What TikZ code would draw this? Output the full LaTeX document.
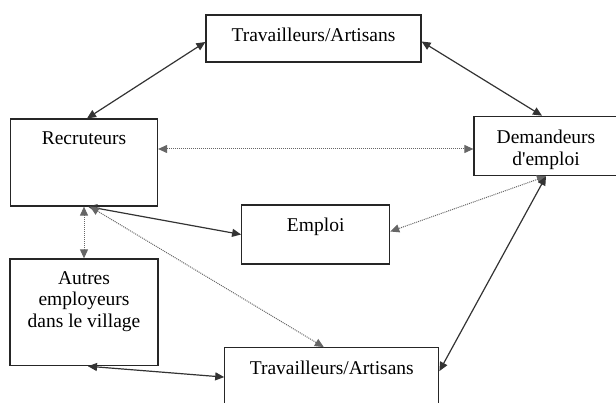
\documentclass[tikz,border=0pt]{standalone}
\usepackage{fontspec}
\setmainfont{Liberation Serif}
\usetikzlibrary{
        arrows.meta,
        positioning
    }
\tikzset{>={Triangle[length=9pt,width=8pt]},auto}
\tikzset{box/.style={draw=black!85,line width=1.2pt,rectangle,inner sep=0pt}}
\tikzset{lbl/.style={inner sep=0pt,align=center,font=\fontsize{19.5}{21.5}\selectfont}}

\begin{document}
\begin{tikzpicture}[x=1pt,y=-1pt]
                    \tikzset{link/.style={<->,line width=1.2pt,draw=black!80}}
                    \tikzset{hint/.style={<->,densely dotted,line width=1pt,draw=black!60}}
                    \useasboundingbox (0,0) rectangle (616,403);

                        % boxes
                        \node[box,minimum width=215pt,minimum height=47pt]   (tw)  at (313.5,38.5)  {};
                        \node[box,minimum width=147pt,minimum height=87pt]   (rec) at (84,162.5)    {};
                        \node[box,minimum width=144pt,minimum height=59.4pt] (dem) at (546,146)     {};
                        \node[box,minimum width=148pt,minimum height=59pt]   (emp) at (315.7,234.5) {};
                        \node[box,minimum width=148pt,minimum height=106.7pt] (aut) at (84,312.3)   {};
                        \node[box,minimum width=214pt,minimum height=70pt]   (tw2) at (331.8,382.7) {};

                        % texts
                        \node[lbl,below=13.5pt of tw.north]  (twlbl)  {Travailleurs/Artisans};
                        \node[lbl,below=13.5pt of rec.north] (reclbl) {Recruteurs};
                        \node[lbl,below=14.5pt of dem.north] (demlbl) {Demandeurs\\d\textquotesingle emploi};
                        \node[lbl,below=13.5pt of emp.north] (emplbl) {Emploi};
                        \node[lbl,below=12.7pt of aut.north] (autlbl) {Autres\\employeurs\\dans le village};
                        \node[lbl,below=13.3pt of tw2.north] (tw2lbl) {Travailleurs/Artisans};

                    \path
                            ([yshift=-3.5pt]tw.west)  edge[link]  ([xshift=3pt]rec.north)
                            ([yshift=-3pt]tw.east)    edge[link]  ([xshift=-4pt]dem.north)
                            ([yshift=13.5pt]rec.east) edge[hint]  ([yshift=-3pt]dem.west)
                            (dem.south)               edge[hint]  ([yshift=3pt]emp.east)
                            (dem.south)               edge[link]  ([yshift=-24pt]tw2.north east)
                            ([xshift=4pt]rec.south)   edge[link]  (emp.west)
                            (rec.south)               edge[hint]  (aut.north)
                            ([xshift=6pt]rec.south)   edge[hint]  ([xshift=-8pt]tw2.north)
                            ([xshift=4pt]aut.south)   edge[link]  ([yshift=-30pt]tw2.north west)
                            ;
            \end{tikzpicture}
\end{document}
